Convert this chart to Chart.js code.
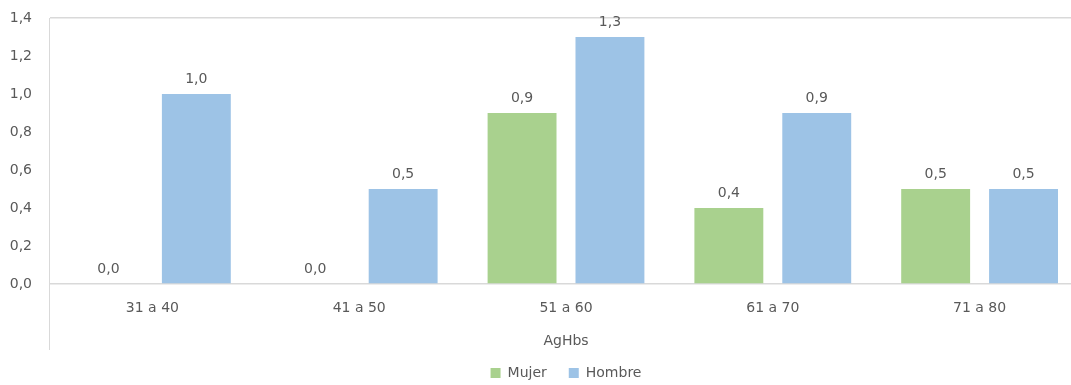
<!DOCTYPE html>
<html>
<head>
<meta charset="utf-8">
<script src="https://cdn.jsdelivr.net/npm/chart.js@4/dist/chart.umd.min.js"></script>
<style>
  html, body { margin: 0; padding: 0; background: #ffffff; }
  #wrap { width: 1071px; height: 385px; position: relative; overflow: hidden; }
  #c { display: block; }
</style>
</head>
<body>
<div id="wrap"><canvas id="c" width="1083" height="385"></canvas></div>
<script>
// Age groups and AgHbs rates by sex
const categories = ['31 a 40', '41 a 50', '51 a 60', '61 a 70', '71 a 80'];
const mujer = [0.0, 0.0, 0.9, 0.4, 0.5];
const hombre = [1.0, 0.5, 1.3, 0.9, 0.5];
const seriesNames = ['Mujer', 'Hombre'];
const axisTitle = 'AgHbs';

const TEXT = '#595959';
const LINE = '#d9d9d9';
const FONT = 'DejaVu Sans';

const fmt = v => v.toFixed(1).replace('.', ',');

// Value labels above every bar
const valueLabels = {
  id: 'valueLabels',
  afterDatasetsDraw(chart) {
    const ctx = chart.ctx;
    ctx.save();
    ctx.fillStyle = TEXT;
    ctx.font = '14px "' + FONT + '"';
    ctx.textAlign = 'center';
    ctx.textBaseline = 'alphabetic';
    chart.data.datasets.forEach((ds, i) => {
      chart.getDatasetMeta(i).data.forEach((el, j) => {
        ctx.fillText(fmt(ds.data[j]), el.x, el.y - 11);
      });
    });
    ctx.restore();
  }
};

// Left frame line continues down past the category labels
const frameLine = {
  id: 'frameLine',
  afterDraw(chart) {
    const a = chart.chartArea;
    const x = chart.scales.x;
    const ctx = chart.ctx;
    ctx.save();
    ctx.strokeStyle = LINE;
    ctx.lineWidth = 1;
    ctx.beginPath();
    ctx.moveTo(Math.round(a.left) + 0.5, a.bottom);
    ctx.lineTo(Math.round(a.left) + 0.5, x.bottom + 6);
    ctx.stroke();
    ctx.restore();
  }
};

new Chart(document.getElementById('c'), {
  type: 'bar',
  data: {
    labels: categories,
    datasets: [
      { label: seriesNames[0], data: mujer, backgroundColor: '#a9d18e', borderWidth: 0,
        categoryPercentage: 0.85, barPercentage: 0.784 },
      { label: seriesNames[1], data: hombre, backgroundColor: '#9dc3e6', borderWidth: 0,
        categoryPercentage: 0.85, barPercentage: 0.784 }
    ]
  },
  options: {
    responsive: false,
    animation: false,
    layout: { padding: { top: 18, right: 0, left: 0, bottom: -5 } },
    plugins: {
      legend: {
        position: 'bottom',
        fullSize: false,
        labels: {
          color: TEXT,
          font: { family: FONT, size: 14 },
          boxWidth: 10,
          boxHeight: 10,
          padding: 22
        }
      },
      tooltip: { enabled: false }
    },
    scales: {
      x: {
        afterFit(scale) { scale.height = 60; },
        grid: { display: false, drawTicks: false },
        border: { display: false },
        ticks: { color: TEXT, font: { family: FONT, size: 14 }, padding: 16 },
        title: {
          display: true, text: axisTitle, color: TEXT,
          font: { family: FONT, size: 14 }, padding: { top: 0, bottom: -6 }
        }
      },
      y: {
        min: 0, max: 1.4,
        afterFit(scale) { scale.width = 49; scale.paddingTop = 0; },
        ticks: {
          stepSize: 0.2, color: TEXT, font: { family: FONT, size: 14 }, padding: 17,
          callback: v => fmt(v)
        },
        grid: {
          drawTicks: false,
          color: c => (c.index === 0 || Math.abs(c.tick.value - 1.4) < 1e-6) ? LINE : 'transparent',
          lineWidth: 1.5
        },
        border: { display: true, color: LINE }
      }
    }
  },
  plugins: [valueLabels, frameLine]
});
</script>
</body>
</html>
